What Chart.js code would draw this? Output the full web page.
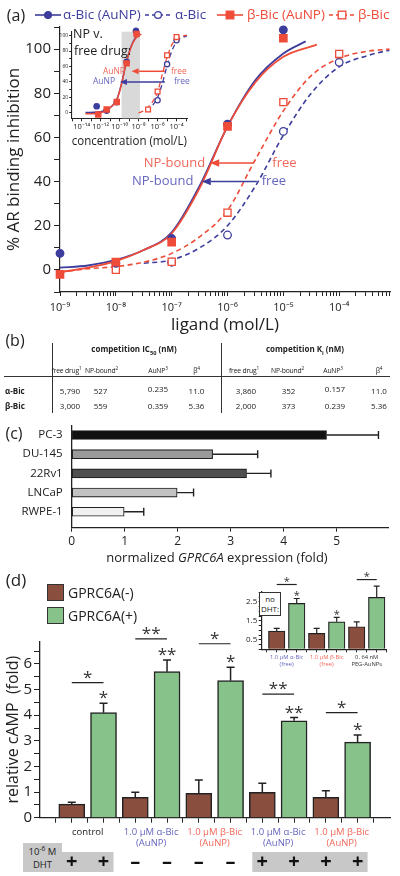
<!DOCTYPE html>
<html>
<head>
<meta charset="utf-8">
<script src="https://cdn.jsdelivr.net/npm/chart.js@4.4.1/dist/chart.umd.min.js"></script>
<style>
  body { margin: 0; width: 400px; height: 876px; position: relative; overflow: hidden; background: #fff;
         font-family: "Open Sans", sans-serif; color: #222; }
  canvas { position: absolute; }
  .lbl { position: absolute; white-space: nowrap; line-height: 1.15; }
  .c { transform: translate(-50%, -50%); text-align: center; }
  .m { transform: translateY(-50%); }
  .rule { position: absolute; background: #333; }
  sup, sub { font-size: 70%; line-height: 0; }
</style>
</head>
<body>
<canvas id="dose" width="400" height="335" style="left:0;top:0"></canvas>
<canvas id="doseInset" width="150" height="125" style="left:55px;top:25px"></canvas>
<canvas id="expr" width="400" height="160" style="left:0;top:405px"></canvas>
<canvas id="camp" width="400" height="251" style="left:0;top:625px"></canvas>
<canvas id="campInset" width="175" height="110" style="left:225px;top:570px"></canvas>
<script>
// ---- (a) AR binding, main panel (x in mol/L) ----
const aNpX = [1e-9, 1e-8, 1e-7, 1e-6, 1e-5];
const aNpY = [7.5, 3, 14.2, 66, 108.7];
const bNpX = [1e-9, 1e-8, 1e-7, 1e-6, 1e-5];
const bNpY = [-2, 3.5, 12.6, 65, 104.9];
const aFreeX = [1e-7, 1e-6, 1e-5, 1e-4];
const aFreeY = [3.5, 15.8, 62.7, 94];
const bFreeX = [1e-8, 1e-7, 1e-6, 1e-5, 1e-4];
const bFreeY = [0, 3.7, 25.9, 76, 97.8];

const aNpFitE = [-9, -8.5, -8, -7.5, -7, -6.5, -6, -5.5, -5, -4.6];
const aNpFitY = [1, 2, 4.5, 9, 17, 38, 65, 86, 98, 103.5];
const bNpFitE = [-9, -8.5, -8, -7.5, -7, -6.5, -6, -5.5, -5, -4.4];
const bNpFitY = [-1, 1, 4, 9, 16.5, 37, 65, 85, 96.5, 102];
const aFreeFitE = [-7.5, -7, -6.5, -6, -5.5, -5, -4.5, -4, -3.5, -3.1];
const aFreeFitY = [3, 4.5, 10, 20, 38, 61, 80, 92, 97, 99.5];
const bFreeFitE = [-9, -8.5, -8, -7.5, -7, -6.5, -6, -5.5, -5, -4.5, -4, -3.5, -3.1];
const bFreeFitY = [-1, 0.5, 1.5, 3.5, 7.5, 15, 27, 50, 72, 88, 95.8, 99, 100];

// ---- (a) inset: NP vs free drug (log10 concentration) ----
const inANpE = [-12.42, -11.37, -10.3, -9.26, -8.28];
const inANpY = [8.6, 3, 14, 66, 106];
const inBNpE = [-12.25, -11.37, -10.3, -9.26, -8.22];
const inBNpY = [-2, 4.4, 14, 64, 102];
const inAFreeE = [-6, -5, -4];
const inAFreeY = [16.4, 63, 94];
const inBFreeE = [-7, -6, -5, -4];
const inBFreeY = [4.4, 27.6, 74.5, 98];
const inANpFitE = [-13.6, -12.3, -11.8, -11.3, -10.8, -10.3, -9.8, -9.3, -8.8, -8.3, -7.9];
const inANpFitY = [0.5, 1, 2, 4.5, 9, 17, 38, 65, 86, 98, 103.5];
const inBNpFitE = [-13.6, -12.3, -11.8, -11.3, -10.8, -10.3, -9.8, -9.3, -8.8, -8.3, -7.7];
const inBNpFitY = [-1, -1, 1, 4, 9, 16.5, 37, 65, 85, 96.5, 102];
const inAFreeFitE = [-6.5, -6, -5.5, -5, -4.5, -4, -3.5, -2.9];
const inAFreeFitY = [10, 20, 38, 61, 80, 92, 97, 99.5];
const inBFreeFitE = [-8, -7.5, -7, -6.5, -6, -5.5, -5, -4.5, -4, -3.5, -2.9];
const inBFreeFitY = [0, 2.5, 7.5, 15, 27, 50, 72, 88, 95.8, 99, 100.5];
const inBand = [-9.79, -7.86];

// ---- (b) table ----
const tblCols = ['free drug<sup>1</sup>', 'NP-bound<sup>2</sup>', 'AuNP<sup>3</sup>', '&beta;<sup>4</sup>'];
const tblRows = ['&alpha;-Bic', '&beta;-Bic'];
const ic50 = [['5,790', '527', '0.235', '11.0'], ['3,000', '559', '0.359', '5.36']];
const kiVals = [['3,860', '352', '0.157', '11.0'], ['2,000', '373', '0.239', '5.36']];

// ---- (c) GPRC6A expression ----
const cellLines = ['PC-3', 'DU-145', '22Rv1', 'LNCaP', 'RWPE-1'];
const cellExpr = [4.81, 2.66, 3.30, 1.99, 0.99];
const cellErr = [0.98, 0.85, 0.46, 0.31, 0.37];

// ---- (d) cAMP ----
const campGroups = [['control'], ['1.0 µM α-Bic', '(AuNP)'], ['1.0 µM β-Bic', '(AuNP)'], ['1.0 µM α-Bic', '(AuNP)'], ['1.0 µM β-Bic', '(AuNP)']];
const campNeg = [0.53, 0.80, 0.95, 0.99, 0.80];
const campNegErr = [0.07, 0.19, 0.52, 0.35, 0.25];
const campPos = [4.10, 5.70, 5.35, 3.78, 2.95];
const campPosErr = [0.37, 0.46, 0.52, 0.13, 0.28];
const campDht = ['+', '+', '–', '–', '–', '–', '+', '+', '+', '+'];
const campSigLevel = [5.27, 6.98, 6.79, 4.82, 4.10];
const campSigMark = ['*', '**', '*', '**', '*'];
const campPosMark = ['*', '**', '*', '**', '*'];

// ---- (d) inset, no DHT ----
const freeGroups = [['1.0 µM α-Bic', '(free)'], ['1.0 µM β-Bic', '(free)'], ['0. 64 nM', 'PEG-AuNPs']];
const freeNeg = [0.96, 0.84, 1.19];
const freeNegErr = [0.14, 0.26, 0.26];
const freePos = [2.42, 1.45, 2.74];
const freePosErr = [0.26, 0.23, 0.59];
const freeSigLevel = [3.42, null, 3.68];
const freeSigMark = ['*', '', '*'];
const freePosMark = ['*', '*', ''];

const BLUE = '#3d3d9d', RED = '#ee4b38', INK = '#222';
const LBLUE = '#6666bd', LRED = '#f2675a';
const BROWN = '#8a4e3e', GREEN = '#88c28b';
const cellColors = ['#111111', '#9a9a9a', '#4f4f4f', '#c2c2c2', '#f0f0f0'];

Chart.defaults.font.family = '"Open Sans", sans-serif';
Chart.defaults.color = INK;
Chart.defaults.plugins.legend.display = false;
Chart.defaults.plugins.tooltip.enabled = false;

const pow = e => Math.pow(10, e);
const pts = (xs, ys) => xs.map((x, i) => ({x, y: ys[i]}));
const logPts = (es, ys) => es.map((e, i) => ({x: pow(e), y: ys[i]}));
const steps = (a, b, s) => { const o = []; for (let v = a; v <= b + 1e-9; v += s) o.push(+v.toFixed(6)); return o; };
const isDecade = v => Math.abs(Math.log10(v) - Math.round(Math.log10(v))) < 1e-6;
const SUP = {'-': '⁻', '0': '⁰', '1': '¹', '2': '²', '3': '³', '4': '⁴', '5': '⁵', '6': '⁶', '7': '⁷', '8': '⁸', '9': '⁹'};
const sup = e => '10' + String(e).split('').map(c => SUP[c]).join('');

function logTicks(lo, hi, minor) {
  const out = [];
  for (let d = Math.floor(lo); d <= Math.ceil(hi); d++) {
    for (let m = 1; m <= (minor ? 9 : 1); m++) {
      const e = Math.log10(m) + d;
      if (e >= lo - 1e-9 && e <= hi + 1e-9) out.push({value: m * pow(d)});
    }
  }
  return out;
}

function markers(data, color, style, filled, r) {
  return { data, pointStyle: style, pointRadius: r, pointBorderWidth: 1.3, borderColor: color,
           backgroundColor: filled ? color : '#fff', showLine: false, clip: false };
}
function fitLine(data, color, dashed, w) {
  return { data, borderColor: color, borderWidth: w, borderDash: dashed ? [5, 3.5] : [], pointRadius: 0,
           showLine: true, cubicInterpolationMode: 'monotone', fill: false, clip: false };
}

function drawNotes(chart, arrows, labels, fontSize, head) {
  const {ctx, scales: {x, y}} = chart;
  ctx.save();
  arrows.forEach(a => {
    const x1 = x.getPixelForValue(pow(a.from)), x2 = x.getPixelForValue(pow(a.to));
    const yy = y.getPixelForValue(a.at), dir = Math.sign(x2 - x1);
    ctx.strokeStyle = a.color; ctx.fillStyle = a.color; ctx.lineWidth = 1.5;
    ctx.beginPath(); ctx.moveTo(x1, yy); ctx.lineTo(x2 - dir * head, yy); ctx.stroke();
    ctx.beginPath(); ctx.moveTo(x2, yy);
    ctx.lineTo(x2 - dir * head, yy - head * 0.42); ctx.lineTo(x2 - dir * head, yy + head * 0.42);
    ctx.closePath(); ctx.fill();
  });
  ctx.font = fontSize + 'px "Open Sans"';
  ctx.textAlign = 'center'; ctx.textBaseline = 'middle';
  labels.forEach(l => {
    ctx.fillStyle = l.color;
    ctx.fillText(l.text, x.getPixelForValue(pow(l.at[0])), y.getPixelForValue(l.at[1]));
  });
  ctx.restore();
}

// error bars for any dataset that carries an `errors` array
Chart.register({
  id: 'errorBars',
  afterDatasetsDraw(chart, args, opts) {
    const {ctx} = chart;
    const horizontal = chart.options.indexAxis === 'y';
    const vScale = horizontal ? chart.scales.x : chart.scales.y;
    const c = (opts.cap || 8) / 2;
    chart.data.datasets.forEach((ds, di) => {
      if (!ds.errors) return;
      ctx.save();
      ctx.strokeStyle = INK; ctx.lineWidth = opts.width || 1.4;
      chart.getDatasetMeta(di).data.forEach((bar, i) => {
        const v = horizontal ? ds.data[i].x : ds.data[i].y;
        const end = vScale.getPixelForValue(v + ds.errors[i]);
        ctx.beginPath();
        if (horizontal) {
          ctx.moveTo(bar.x, bar.y); ctx.lineTo(end, bar.y);
          ctx.moveTo(end, bar.y - c); ctx.lineTo(end, bar.y + c);
        } else {
          ctx.moveTo(bar.x, bar.y); ctx.lineTo(bar.x, end);
          ctx.moveTo(bar.x - c, end); ctx.lineTo(bar.x + c, end);
        }
        ctx.stroke();
      });
      ctx.restore();
    });
  }
});

const base = { responsive: false, animation: false, devicePixelRatio: 1 };

// ================= (a) main =================
const mainArrows = [
  {from: -5.54, to: -6.31, at: 48.4, color: RED},
  {from: -5.475, to: -6.46, at: 40, color: BLUE}
];
const mainLabels = [
  {text: 'NP-bound', at: [-6.95, 48.4], color: LRED}, {text: 'free', at: [-4.98, 48.4], color: LRED},
  {text: 'NP-bound', at: [-7.16, 40], color: LBLUE}, {text: 'free', at: [-5.17, 40], color: LBLUE}
];

new Chart(document.getElementById('dose'), {
  type: 'scatter',
  data: { datasets: [
    markers(pts(bNpX, bNpY), RED, 'rect', true, 5.2),
    markers(pts(aNpX, aNpY), BLUE, 'circle', true, 3.8),
    markers(pts(bFreeX, bFreeY), RED, 'rect', false, 5),
    markers(pts(aFreeX, aFreeY), BLUE, 'circle', false, 3.8),
    fitLine(logPts(bNpFitE, bNpFitY), RED, false, 1.8),
    fitLine(logPts(aNpFitE, aNpFitY), BLUE, false, 1.8),
    fitLine(logPts(bFreeFitE, bFreeFitY), RED, true, 1.6),
    fitLine(logPts(aFreeFitE, aFreeFitY), BLUE, true, 1.6)
  ]},
  options: Object.assign({}, base, {
    layout: { padding: { top: 27, right: 10, left: 0, bottom: 0 } },
    scales: {
      x: { type: 'logarithmic', min: 1e-9, max: pow(-3.09),
        afterBuildTicks: s => { s.ticks = logTicks(-9, -3.09, true); },
        afterFit: s => { s.height = 43; },
        ticks: { callback: v => isDecade(v) ? sup(Math.round(Math.log10(v))) : '', font: { size: 11 },
                 padding: 5, autoSkip: false, maxRotation: 0 },
        grid: { drawOnChartArea: false, color: INK, tickLength: 4 },
        border: { color: INK, width: 1.2 },
        title: { display: true, text: 'ligand (mol/L)', font: { size: 17 }, padding: { top: 0, bottom: 0 } } },
      y: { min: -10, max: 110,
        afterBuildTicks: s => { s.ticks = steps(-10, 110, 10).map(v => ({value: v})); },
        afterFit: s => { s.width = 60; },
        ticks: { callback: v => (v >= 0 && v <= 100 && v % 20 === 0) ? v : '', font: { size: 15 }, padding: 3, autoSkip: false },
        grid: { drawOnChartArea: false, color: INK, tickLength: 6 },
        border: { color: INK, width: 1.2 },
        title: { display: true, text: '% AR binding inhibition', font: { size: 17 }, padding: { top: 4, bottom: 0 } } }
    }
  }),
  plugins: [{ id: 'doseNotes', afterDatasetsDraw: ch => drawNotes(ch, mainArrows, mainLabels, 13, 9) }]
});

// ================= (a) inset =================
const insetArrows = [
  {from: -5.23, to: -8.74, at: 53.8, color: RED},
  {from: -5.23, to: -9.97, at: 40, color: BLUE}
];
const insetLabels = [
  {text: 'AuNP', at: [-10.6, 53.8], color: LRED}, {text: 'free', at: [-3.76, 53.8], color: LRED},
  {text: 'AuNP', at: [-11.65, 40], color: LBLUE}, {text: 'free', at: [-3.44, 40], color: LBLUE}
];

new Chart(document.getElementById('doseInset'), {
  type: 'scatter',
  data: { datasets: [
    markers(logPts(inBNpE, inBNpY), RED, 'rect', true, 3.6),
    markers(logPts(inANpE, inANpY), BLUE, 'circle', true, 2.7),
    markers(logPts(inBFreeE, inBFreeY), RED, 'rect', false, 3.4),
    markers(logPts(inAFreeE, inAFreeY), BLUE, 'circle', false, 2.6),
    fitLine(logPts(inBNpFitE, inBNpFitY), RED, false, 1.5),
    fitLine(logPts(inANpFitE, inANpFitY), BLUE, false, 1.5),
    fitLine(logPts(inBFreeFitE, inBFreeFitY), RED, true, 1.3),
    fitLine(logPts(inAFreeFitE, inAFreeFitY), BLUE, true, 1.3)
  ]},
  options: Object.assign({}, base, {
    layout: { padding: { top: 6.7, right: 18, left: 0, bottom: 0 } },
    scales: {
      x: { type: 'logarithmic', min: pow(-15.05), max: pow(-2.9),
        afterBuildTicks: s => { s.ticks = logTicks(-15.05, -2.9, false); },
        afterFit: s => { s.height = 31.7; },
        ticks: { callback: v => { const e = Math.round(Math.log10(v)); return e % 2 === 0 && e >= -14 && e <= -4 ? sup(e) : ''; },
                 font: { size: 7.5 }, padding: 1.5, autoSkip: false, maxRotation: 0 },
        grid: { drawOnChartArea: false, color: INK, tickLength: 3 },
        border: { color: INK, width: 1.1 },
        title: { display: true, text: 'concentration (mol/L)', font: { size: 12.5 }, padding: { top: 0, bottom: 1 } } },
      y: { min: -7, max: 105,
        afterBuildTicks: s => { s.ticks = steps(0, 100, 10).map(v => ({value: v})); },
        afterFit: s => { s.width = 16.7; },
        ticks: { callback: v => v % 20 === 0 ? v : '', font: { size: 5 }, padding: 1, autoSkip: false },
        grid: { drawOnChartArea: false, color: INK, tickLength: 2.5 },
        border: { color: INK, width: 1.1 } }
    }
  }),
  plugins: [{
    id: 'band',
    beforeDatasetsDraw(ch) {
      const {ctx, chartArea: a, scales: {x}} = ch;
      const x1 = x.getPixelForValue(pow(inBand[0])), x2 = x.getPixelForValue(pow(inBand[1]));
      ctx.save(); ctx.fillStyle = '#d9d9d9'; ctx.fillRect(x1, a.top, x2 - x1, a.bottom - a.top); ctx.restore();
    },
    afterDatasetsDraw: ch => drawNotes(ch, insetArrows, insetLabels, 8.5, 7)
  }]
});

// ================= (c) =================
new Chart(document.getElementById('expr'), {
  type: 'bar',
  data: { datasets: [{
    data: cellExpr.map((v, i) => ({x: v, y: i})), errors: cellErr,
    backgroundColor: cellColors, borderColor: INK, borderWidth: 1.1, barThickness: 9, borderSkipped: false
  }]},
  options: Object.assign({}, base, {
    indexAxis: 'y',
    layout: { padding: { top: 20.4, right: 12, left: 0, bottom: 0 } },
    plugins: { errorBars: { cap: 8, width: 1.4 } },
    scales: {
      x: { type: 'linear', min: 0, max: 5.97,
        afterBuildTicks: s => { s.ticks = steps(0, 5, 1).map(v => ({value: v})); },
        afterFit: s => { s.height = 37.3; },
        ticks: { font: { size: 12 }, padding: 2.5 },
        grid: { drawOnChartArea: false, color: INK, tickLength: 4 },
        border: { color: INK, width: 1.3 } },
      y: { type: 'linear', min: -0.5, max: 4.83, reverse: true, offset: false,
        afterBuildTicks: s => { s.ticks = steps(0, 4, 1).map(v => ({value: v})); },
        afterFit: s => { s.width = 71.7; },
        ticks: { callback: v => cellLines[v], font: { size: 11.5 }, padding: 9, autoSkip: false },
        grid: { drawOnChartArea: false, drawTicks: false, offset: false },
        border: { color: INK, width: 1.3 } }
    }
  })
});

// ================= (d) helpers =================
function sigPlugin(levels, marks, topMarks, size, gap) {
  return {
    id: 'sig',
    afterDatasetsDraw(ch) {
      const {ctx, scales: {y}} = ch;
      const neg = ch.getDatasetMeta(0).data, pos = ch.getDatasetMeta(1).data;
      const posDs = ch.data.datasets[1];
      ctx.save();
      ctx.strokeStyle = INK; ctx.lineWidth = 1.2; ctx.fillStyle = '#333';
      ctx.font = size + 'px "Open Sans"'; ctx.textAlign = 'center'; ctx.textBaseline = 'alphabetic';
      const star = (t, x, yc) => ctx.fillText(t, x, yc + size * 0.56);
      levels.forEach((lv, i) => {
        const x1 = neg[i].x, x2 = pos[i].x;
        if (lv !== null) {
          const yy = y.getPixelForValue(lv);
          ctx.beginPath(); ctx.moveTo(x1, yy); ctx.lineTo(x2, yy); ctx.stroke();
          star(marks[i], (x1 + x2) / 2, yy - gap);
        }
        if (topMarks[i]) star(topMarks[i], x2, y.getPixelForValue(posDs.data[i].y + posDs.errors[i]) - gap);
      });
      ctx.restore();
    }
  };
}
const slotTicks = (a, b) => s => { s.ticks = steps(a, b, 0.5).map(v => ({value: v})); };
const groupOf = v => (v - 1.5) / 2;
function toneColor(lines, dark) {
  if (lines[0].includes('α')) return LBLUE;
  if (lines[0].includes('β')) return LRED;
  return dark;
}

// ================= (d) main =================
new Chart(document.getElementById('camp'), {
  type: 'bar',
  data: { datasets: [
    { label: 'GPRC6A(-)', data: campNeg.map((v, i) => ({x: 2 * i + 1, y: v})), errors: campNegErr,
      backgroundColor: BROWN, borderColor: INK, borderWidth: 1.5, barThickness: 26, grouped: false },
    { label: 'GPRC6A(+)', data: campPos.map((v, i) => ({x: 2 * i + 2, y: v})), errors: campPosErr,
      backgroundColor: GREEN, borderColor: INK, borderWidth: 1.5, barThickness: 26, grouped: false }
  ]},
  options: Object.assign({}, base, {
    layout: { padding: { top: 16.7, right: 10, left: 0, bottom: 0 } },
    plugins: { errorBars: { cap: 8, width: 1.5 } },
    scales: {
      x: { type: 'linear', min: 0, max: 11.02, offset: false,
        afterBuildTicks: slotTicks(0.5, 10.5),
        afterFit: s => { s.height = 58.3; },
        ticks: { callback: v => { const g = groupOf(v); return Number.isInteger(g) ? campGroups[g] : ''; },
                 color: ctx => { const g = groupOf(ctx.tick.value); return Number.isInteger(g) ? toneColor(campGroups[g], '#222') : INK; },
                 font: { size: 9.5 }, padding: 3.5, autoSkip: false, maxRotation: 0 },
        grid: { drawOnChartArea: false, color: INK, tickLength: 5, offset: false },
        border: { color: INK, width: 1.3 } },
      y: { min: 0, max: 6.87,
        afterBuildTicks: s => { s.ticks = steps(0, 6.5, 0.5).map(v => ({value: v})); },
        afterFit: s => { s.width = 40; },
        ticks: { callback: v => Number.isInteger(v) ? v : '', font: { size: 15 }, padding: 2, autoSkip: false },
        grid: { drawOnChartArea: false, color: INK, tickLength: 6 },
        border: { color: INK, width: 1.3 },
        title: { display: true, text: 'relative cAMP  (fold)', font: { size: 16 }, padding: { top: 4, bottom: 0 } } }
    }
  }),
  plugins: [sigPlugin(campSigLevel, campSigMark, campPosMark, 17, 9.5), {
    id: 'dhtRow',
    afterDraw(ch) {
      const {ctx, scales: {x}} = ch;
      const top = 227, h = 20;
      ctx.save();
      ctx.fillStyle = '#c8c8c8';
      let i = 0;
      while (i < campDht.length) {
        if (campDht[i] !== '+') { i++; continue; }
        let j = i;
        while (j + 1 < campDht.length && campDht[j + 1] === '+') j++;
        const x1 = x.getPixelForValue(i + 1) - 10, x2 = x.getPixelForValue(j + 1) + 10;
        ctx.fillRect(x1, top, x2 - x1, h);
        i = j + 1;
      }
      ctx.fillStyle = '#111'; ctx.font = 'bold 20px "Open Sans"';
      ctx.textAlign = 'center'; ctx.textBaseline = 'middle';
      campDht.forEach((s, k) => ctx.fillText(s, x.getPixelForValue(k + 1), top + h / 2));
      ctx.restore();
    }
  }]
});

// ================= (d) inset =================
new Chart(document.getElementById('campInset'), {
  type: 'bar',
  data: { datasets: [
    { data: freeNeg.map((v, i) => ({x: 2 * i + 1, y: v})), errors: freeNegErr,
      backgroundColor: BROWN, borderColor: INK, borderWidth: 1.2, barThickness: 16.5, grouped: false },
    { data: freePos.map((v, i) => ({x: 2 * i + 2, y: v})), errors: freePosErr,
      backgroundColor: GREEN, borderColor: INK, borderWidth: 1.2, barThickness: 16.5, grouped: false }
  ]},
  options: Object.assign({}, base, {
    layout: { padding: { top: 21.7, right: 13.3, left: 0, bottom: 0 } },
    plugins: { errorBars: { cap: 6, width: 1.2 } },
    scales: {
      x: { type: 'linear', min: 0.25, max: 6.5, offset: false,
        afterBuildTicks: slotTicks(0.5, 6.5),
        afterFit: s => { s.height = 30.7; },
        ticks: { callback: v => { const g = groupOf(v); return Number.isInteger(g) ? freeGroups[g] : ''; },
                 color: ctx => { const g = groupOf(ctx.tick.value); return Number.isInteger(g) ? toneColor(freeGroups[g], '#333') : INK; },
                 font: { size: 5.8 }, padding: 2, autoSkip: false, maxRotation: 0 },
        grid: { drawOnChartArea: false, color: INK, tickLength: 3, offset: false },
        border: { color: INK, width: 1.2 } },
      y: { min: 0, max: 3.04,
        afterBuildTicks: s => { s.ticks = steps(0, 3, 0.25).map(v => ({value: v})); },
        afterFit: s => { s.width = 36.7; },
        ticks: { callback: v => [0.5, 1.5, 2.5].includes(v) ? v : '', font: { size: 8 }, padding: 1.5, autoSkip: false },
        grid: { drawOnChartArea: false, color: INK, tickLength: 3 },
        border: { color: INK, width: 1.2 } }
    }
  }),
  plugins: [sigPlugin(freeSigLevel, freeSigMark, freePosMark, 11, 6)]
});

// ================= text overlays =================
function put(html, x, y, css, cls) {
  const d = document.createElement('div');
  d.className = 'lbl ' + (cls === undefined ? 'c' : cls);
  d.style.cssText = 'left:' + x + 'px;top:' + y + 'px;' + (css || '');
  d.innerHTML = html;
  document.body.appendChild(d);
  return d;
}
function rule(x, y, w, h) {
  const d = document.createElement('div');
  d.className = 'rule';
  d.style.cssText = 'left:' + x + 'px;top:' + y + 'px;width:' + w + 'px;height:' + h + 'px';
  document.body.appendChild(d);
}
function icon(color, dashed, shape, filled) {
  const dash = dashed ? ' stroke-dasharray="4 3"' : '';
  const fill = filled ? color : '#fff';
  const mark = shape === 'circle'
    ? '<circle cx="13" cy="6" r="3.4" fill="' + fill + '" stroke="' + color + '" stroke-width="1.3"/>'
    : '<rect x="9.2" y="2.2" width="7.6" height="7.6" fill="' + fill + '" stroke="' + color + '" stroke-width="1.3"/>';
  return '<svg width="26" height="12" style="display:block"><line x1="0" y1="6" x2="26" y2="6" stroke="' + color +
    '" stroke-width="1.6"' + dash + '/>' + mark + '</svg>';
}

// panel letters
put('(a)', 16, 15, 'font-size:16px');
put('(b)', 15, 340, 'font-size:16px');
put('(c)', 14, 433, 'font-size:16px');
put('(d)', 16, 580, 'font-size:17px');

// (a) legend
const legendItems = [
  {x: 35, tx: 63, text: 'α-Bic (AuNP)', color: BLUE, dashed: false, shape: 'circle', filled: true},
  {x: 145, tx: 175, text: 'α-Bic', color: BLUE, dashed: true, shape: 'circle', filled: false},
  {x: 217, tx: 247, text: 'β-Bic (AuNP)', color: RED, dashed: false, shape: 'rect', filled: true},
  {x: 329, tx: 358, text: 'β-Bic', color: RED, dashed: true, shape: 'rect', filled: false}
];
legendItems.forEach(it => {
  put(icon(it.color, it.dashed, it.shape, it.filled), it.x, 15, '', 'm');
  put(it.text, it.tx, 15, 'font-size:13.5px;color:' + it.color, 'm');
});

// (a) inset caption
put('NP v.', 73, 33.5, 'font-size:12.5px', 'm');
put('free drug:', 74, 50.5, 'font-size:12.5px', 'm');

// (b) table
rule(52, 343, 1.3, 70);
rule(221, 343, 1.3, 70);
rule(4, 376, 386, 1);
put('competition IC<sub>50</sub> (nM)', 134, 349, 'font-size:8px;font-weight:700');
put('competition K<sub>i</sub> (nM)', 305, 349, 'font-size:8px;font-weight:700');
const headLeft = [66.5, 101.5, 158, 196.5];
const headRight = [244, 287.5, 333, 379];
const colLeft = [70, 100.5, 158, 196.5];
const colRight = [246, 288.5, 335, 379];
tblCols.forEach((t, i) => {
  put(t, headLeft[i], 371, 'font-size:6.8px;letter-spacing:-0.2px');
  put(t, headRight[i], 371, 'font-size:6.8px;letter-spacing:-0.2px');
});
tblRows.forEach((r, ri) => {
  const yy = 391 + ri * 15;
  put(r, 5, yy, 'font-size:8px;font-weight:700', 'm');
  ic50[ri].forEach((v, i) => put(v, colLeft[i], yy - (i === 2 && ri === 0 ? 2.5 : 0), 'font-size:8px'));
  kiVals[ri].forEach((v, i) => put(v, colRight[i], yy - (i === 2 && ri === 0 ? 2.5 : 0), 'font-size:8px'));
});

// (c) axis title
put('normalized <i>GPRC6A</i> expression (fold)', 217, 557, 'font-size:13px');

// (d) legend
put('', 47, 584, 'width:15px;height:15px;background:' + BROWN + ';border:1px solid #333', '');
put('', 47, 607, 'width:15px;height:15px;background:' + GREEN + ';border:1px solid #333', '');
put('GPRC6A(-)', 68, 592.5, 'font-size:14px', 'm');
put('GPRC6A(+)', 68, 615.5, 'font-size:14px', 'm');

// (d) inset "no DHT" box and DHT row label
put('no<br>DHT:', 259, 592, 'width:20px;height:21px;border:1px solid #333;background:#fff;font-size:8px;line-height:10px;text-align:center;padding-top:0.5px', '');
put('10<sup>-6</sup> M<br>DHT', 23, 843, 'width:39px;height:29px;background:#c8c8c8;font-size:9.5px;line-height:13px;text-align:center;padding-top:2px;box-sizing:border-box', '');
</script>
</body>
</html>
